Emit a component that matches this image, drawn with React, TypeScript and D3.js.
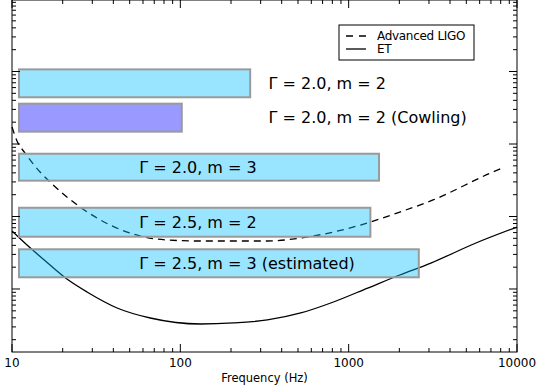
import React from "react";
import * as d3 from "d3";

// Advanced LIGO sensitivity
const aligoFreq = [10, 10.71, 11.95, 14.68, 16.83, 25.4, 38.3, 57.8, 83.6, 131.4, 329, 519, 812, 1177, 2012, 3172, 6971, 8210];
const aligoStrain = [1.72e-23, 1.1e-23, 7.51e-24, 4.11e-24, 2.99e-24, 1.35e-24, 7.63e-25, 5.38e-25, 4.74e-25, 4.59e-25, 4.59e-25, 5.05e-25, 6.11e-25, 7.63e-25, 1.15e-24, 1.69e-24, 3.98e-24, 4.67e-24];

// Einstein Telescope sensitivity
const etFreq = [10, 12.28, 15.3, 21.2, 27.9, 42.1, 66.3, 131.4, 207, 329, 519, 812, 1297, 2012, 3076, 5702, 10000];
const etStrain = [6.31e-25, 4.04e-25, 2.59e-25, 1.37e-25, 9.09e-26, 5.47e-26, 3.98e-26, 3.29e-26, 3.4e-26, 3.74e-26, 4.67e-26, 6.62e-26, 1.03e-25, 1.56e-25, 2.28e-25, 4.31e-25, 7.16e-25];

// instability windows
const barLabels = ["Γ = 2.0, m = 2", "Γ = 2.0, m = 2 (Cowling)", "Γ = 2.0, m = 3", "Γ = 2.5, m = 2", "Γ = 2.5, m = 3 (estimated)"];
const barModel = ["full", "cowling", "full", "full", "full"];
const barFreqMin = [11, 11, 11, 11, 11];
const barFreqMax = [260, 102, 1515, 1346, 2610];
const barStrainTop = [1.07e-22, 3.6e-23, 7.34e-24, 1.32e-24, 3.53e-25];
const barStrainBottom = [4.41e-23, 1.48e-23, 3.12e-24, 5.26e-25, 1.45e-25];

const xTickLabels = ["10", "100", "1000", "10000"];
const legendLabels = ["Advanced LIGO", "ET"];

const W = 536;
const H = 391;
const left = 12;
const right = 517;
const top = 0;
const bottom = 352;
const font = "DejaVu Sans, sans-serif";

const App = () => {
  const x = d3.scaleLog().domain([10, 10000]).range([left, right]);
  const y = d3.scaleLog().domain([1.352e-26, 9.69e-22]).range([bottom, top]);
  const color = d3.scaleOrdinal<string, string>().domain(["full", "cowling"]).range(["#00bfff", "#0000ff"]);

  const line = d3
    .line<[number, number]>()
    .x((d) => x(d[0]))
    .y((d) => y(d[1]))
    .curve(d3.curveMonotoneX);

  const aligo = aligoFreq.map((f, i) => [f, aligoStrain[i]] as [number, number]);
  const et = etFreq.map((f, i) => [f, etStrain[i]] as [number, number]);

  const xTicks = x.ticks();
  const yTicks = y.ticks();
  const isMajor = (v: number) => Math.abs(Math.log10(v) - Math.round(Math.log10(v))) < 1e-6;
  const major = 8;
  const minor = 4;

  const lg = { x: 339, y: 25, w: 135, h: 35 };

  return (
    <svg width={W} height={H} style={{ position: "absolute", left: 0, top: 0 }} fontFamily={font}>
      <rect width={W} height={H} fill="#fff" />
      <path d={line(et) || ""} fill="none" stroke="#000" strokeWidth={1.3} />
      <path d={line(aligo) || ""} fill="none" stroke="#000" strokeWidth={1.3} strokeDasharray="7,5" />

      {barLabels.map((lab, i) => (
        <rect
          key={lab}
          x={x(barFreqMin[i])}
          y={y(barStrainTop[i])}
          width={x(barFreqMax[i]) - x(barFreqMin[i])}
          height={y(barStrainBottom[i]) - y(barStrainTop[i])}
          fill={color(barModel[i])}
          fillOpacity={0.4}
          stroke="#9a9a9a"
          strokeWidth={2}
        />
      ))}
      {barLabels.map((lab, i) => {
        const inside = barFreqMax[i] > 1000;
        const cy = (y(barStrainTop[i]) + y(barStrainBottom[i])) / 2;
        return (
          <text key={lab} x={inside ? x(57) : x(334)} y={cy} dy="0.36em" fontSize={16} fill="#000">
            {lab}
          </text>
        );
      })}

      {/* frame */}
      <rect x={left} y={top} width={right - left} height={bottom - top} fill="none" stroke="#000" strokeWidth={1} />

      {xTicks.map((t) => {
        const len = isMajor(t) ? major : minor;
        return (
          <g key={"x" + t} stroke="#000">
            <line x1={x(t)} x2={x(t)} y1={bottom} y2={bottom - len} />
            <line x1={x(t)} x2={x(t)} y1={top} y2={top + len} />
          </g>
        );
      })}
      {yTicks.map((t) => {
        const len = isMajor(t) ? major : minor;
        return (
          <g key={"y" + t} stroke="#000">
            <line x1={left} x2={left + len} y1={y(t)} y2={y(t)} />
            <line x1={right} x2={right - len} y1={y(t)} y2={y(t)} />
          </g>
        );
      })}

      {xTickLabels.map((lab) => (
        <text key={lab} x={x(+lab)} y={bottom + 11} dy="0.36em" textAnchor="middle" fontSize={12}>
          {lab}
        </text>
      ))}
      <text x={(left + right) / 2} y={bottom + 26} dy="0.36em" textAnchor="middle" fontSize={11.5}>
        Frequency (Hz)
      </text>

      <g>
        <rect x={lg.x} y={lg.y} width={lg.w} height={lg.h} fill="#fff" stroke="#000" strokeWidth={1} />
        {legendLabels.map((lab, i) => (
          <g key={lab} transform={`translate(${lg.x + 7},${lg.y + 11 + i * 13})`}>
            <line x1={0} x2={20} y1={0} y2={0} stroke="#000" strokeWidth={1.3} strokeDasharray={i === 0 ? "7,6" : undefined} />
            <text x={31} y={0} dy="0.36em" fontSize={12} letterSpacing={-0.3}>
              {lab}
            </text>
          </g>
        ))}
      </g>
    </svg>
  );
};

export default App;
